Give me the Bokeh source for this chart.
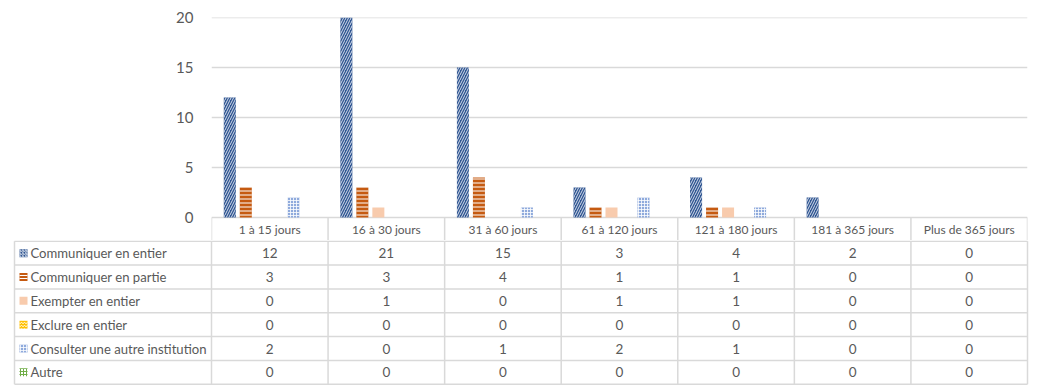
from bokeh.plotting import figure
from bokeh.models import Range1d, FactorRange, FixedTicker, ColumnDataSource
from bokeh.transform import dodge
from bokeh.core.properties import value
from bokeh.embed import file_html
from bokeh.resources import INLINE

# ---- data ----
categories = ["1 à 15 jours", "16 à 30 jours", "31 à 60 jours", "61 à 120 jours",
              "121 à 180 jours", "181 à 365 jours", "Plus de 365 jours"]
series_names = ["Communiquer en entier", "Communiquer en partie", "Exempter en entier",
                "Exclure en entier", "Consulter une autre institution", "Autre"]
communiquer_entier = [12, 21, 15, 3, 4, 2, 0]
communiquer_partie = [3, 3, 4, 1, 1, 0, 0]
exempter_entier = [0, 1, 0, 1, 1, 0, 0]
exclure_entier = [0, 0, 0, 0, 0, 0, 0]
consulter_autre = [2, 0, 1, 2, 1, 0, 0]
autre = [0, 0, 0, 0, 0, 0, 0]
y_ticks = [0, 5, 10, 15, 20]

series_values = [communiquer_entier, communiquer_partie, exempter_entier,
                 exclure_entier, consulter_autre, autre]

# ---- styles ----
FONT = "Lato"
TXT = "#595959"
GRID = "#D9D9D9"
styles = [
    dict(fill_color="#2F5592", hatch_pattern="/", hatch_color="white", hatch_scale=5, hatch_weight=0.8),
    dict(fill_color="#C55A11", hatch_pattern="-", hatch_color="white", hatch_scale=4, hatch_weight=1),
    dict(fill_color="#F8CBAD"),
    dict(fill_color="#FFC000", hatch_pattern="v", hatch_color="white", hatch_scale=4, hatch_weight=1),
    dict(fill_color="#8FAADC", hatch_pattern="+", hatch_color="white", hatch_scale=3, hatch_weight=0.8),
    dict(fill_color="white", hatch_pattern="+", hatch_color="#70AD47", hatch_scale=3, hatch_weight=1),
]

W = 1040
PLOT_L = 211      # left edge of plot area (px)
PLOT_R = 1027     # right edge of plot area (px)
PLOT_T = 17       # top of plot area (px)
ZERO_Y = 217      # y of value 0 (px)
HEAD_B = 240      # bottom of table header row (px)
TABLE_L = 14      # left edge of data table (px)
TABLE_B = 383     # bottom of data table (px)
ncat = len(categories)
PPU = (PLOT_R - PLOT_L) / ncat
YPX = (ZERO_Y - PLOT_T) / 20.0          # px per value unit
head_depth = (HEAD_B - ZERO_Y) / YPX     # header row depth in value units

# ---- chart (+ table header row) ----
n = len(series_names)
bar_w = 12 / PPU
step = 16 / PPU
src = ColumnDataSource(dict(cat=categories, **{f"s{i}": v for i, v in enumerate(series_values)}))
p1 = figure(width=W, height=HEAD_B, x_range=FactorRange(*categories),
            y_range=Range1d(-head_depth, 20),
            output_backend="svg", toolbar_location=None,
            min_border_left=PLOT_L, min_border_right=W - PLOT_R,
            min_border_top=PLOT_T, min_border_bottom=0)
p1.outline_line_color = None
p1.xaxis.visible = False
p1.grid.visible = False
p1.yaxis.ticker = FixedTicker(ticks=list(y_ticks))
p1.yaxis.axis_line_color = None
p1.yaxis.major_tick_line_color = None
p1.yaxis.minor_tick_line_color = None
p1.yaxis.major_tick_out = 0
p1.yaxis.major_tick_in = 0
p1.yaxis.major_label_standoff = 18
p1.yaxis.major_label_text_font = FONT
p1.yaxis.major_label_text_font_size = "15px"
p1.yaxis.major_label_text_color = TXT

# horizontal gridlines (value ticks) across the plot area
p1.segment(x0=[0.0] * len(y_ticks), x1=[float(ncat)] * len(y_ticks),
           y0=[float(t) for t in y_ticks], y1=[float(t) for t in y_ticks],
           line_color=GRID, line_width=1.5)

for i in range(n):
    off = (i - (n - 1) / 2) * step
    p1.vbar(x=dodge("cat", off, range=p1.x_range), top=f"s{i}", width=bar_w, bottom=0,
            source=src, line_color=None, **styles[i])

# header row of the data table
p1.segment(x0=list(range(ncat + 1)), x1=list(range(ncat + 1)),
           y0=[0] * (ncat + 1), y1=[-head_depth] * (ncat + 1), line_color=GRID, line_width=1.5)
p1.text(x=categories, y=[-head_depth / 2] * ncat, text=categories,
        text_align="center", text_baseline="middle", text_font=value(FONT),
        text_font_size="12px", text_color=TXT)

# ---- data table body ----
nrows = len(series_names)
ROW = (TABLE_B - HEAD_B) / nrows
TH = TABLE_B - HEAD_B + 2
top_pad = 0.75
p2 = figure(width=W, height=TH,
            x_range=Range1d(-PLOT_L / PPU, ncat + (W - PLOT_R) / PPU),
            y_range=Range1d((TH - top_pad) / ROW, -top_pad / ROW),
            output_backend="svg", toolbar_location=None,
            min_border_left=0, min_border_right=0, min_border_top=0, min_border_bottom=0)
p2.outline_line_color = None
p2.axis.visible = False
p2.grid.visible = False
L = (TABLE_L - PLOT_L) / PPU

x0, y0, x1, y1 = [], [], [], []
for r in range(nrows + 1):
    x0.append(L); x1.append(ncat); y0.append(r); y1.append(r)
for c in [L] + list(range(ncat + 1)):
    x0.append(c); x1.append(c); y0.append(0); y1.append(nrows)
p2.segment(x0=x0, y0=y0, x1=x1, y1=y1, line_color=GRID, line_width=1.5)

for r, (name, vals) in enumerate(zip(series_names, series_values)):
    yy = r + 0.5
    p2.text(x=[i + 0.5 for i in range(len(vals))], y=[yy] * len(vals), text=[str(v) for v in vals],
            text_align="center", text_baseline="middle", text_font=value(FONT),
            text_font_size="13.5px", text_color=TXT)
    p2.text(x=[L + 16 / PPU], y=[yy], text=[name], text_align="left", text_baseline="middle",
            text_font=value(FONT), text_font_size="13.1px", text_color=TXT)
    sw = dict(styles[r])
    if "hatch_scale" in sw:
        sw["hatch_scale"] = 3
    p2.rect(x=[L + 9 / PPU], y=[yy], width=8, height=8, width_units="screen",
            height_units="screen", line_color=None, **sw)

open("out.html", "w").write(file_html([p1, p2], INLINE))
